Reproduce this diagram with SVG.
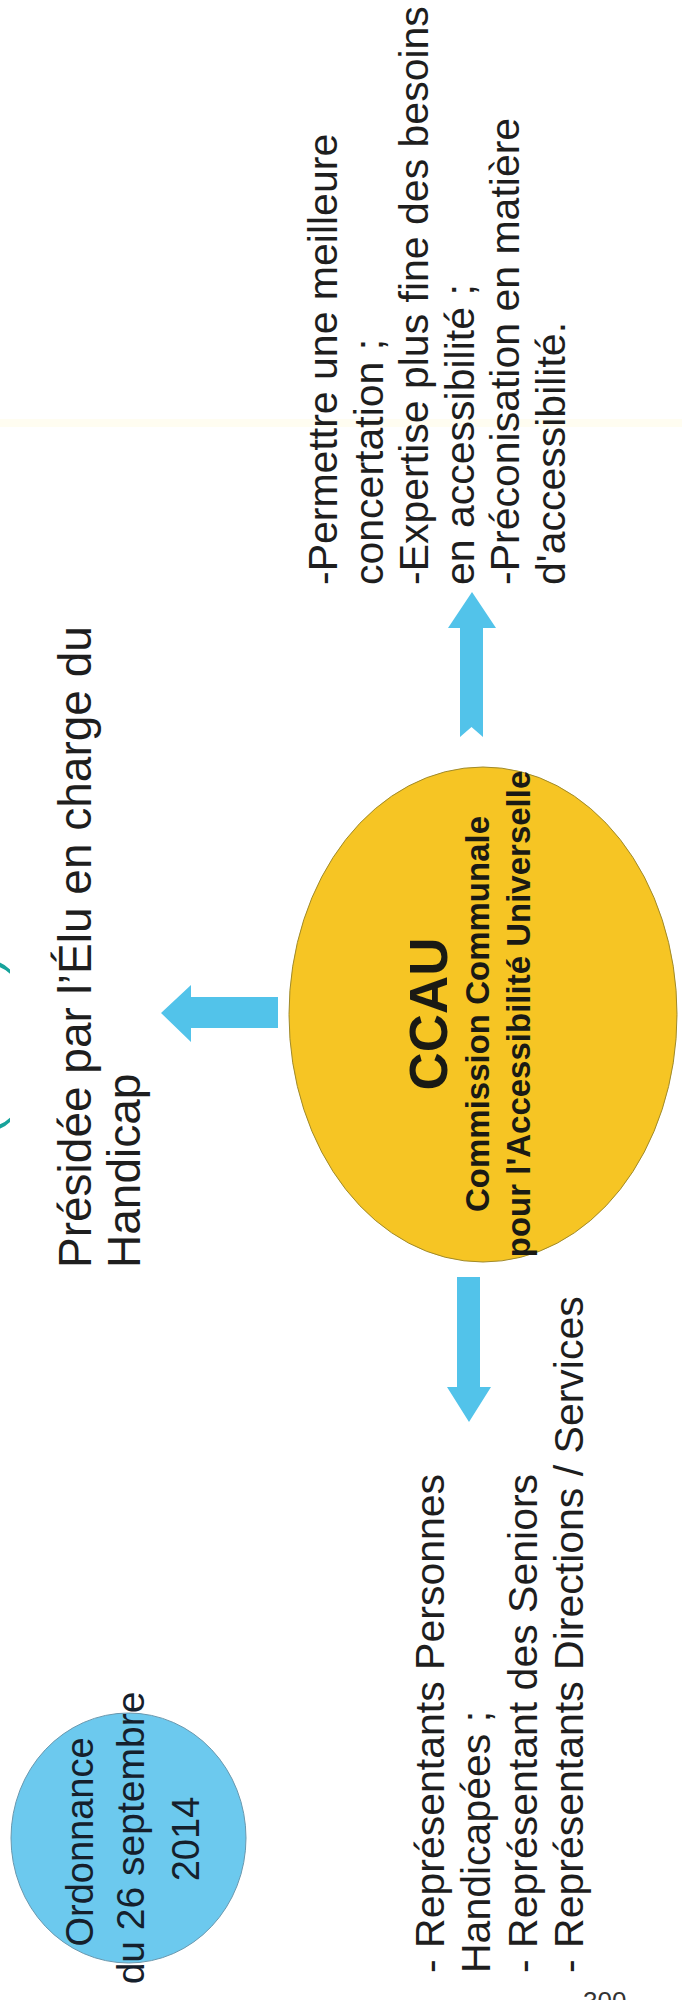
<svg xmlns="http://www.w3.org/2000/svg" width="682" height="2000" viewBox="0 0 682 2000">
<style>
.t{font-family:"Liberation Sans",Arial,sans-serif;fill:#1e1e1e}
.b{font-weight:bold;fill:#1a1a14}
.arrow{fill:#52C3EA}
</style>
<rect x="0" y="0" width="682" height="2000" fill="#ffffff"/>
<rect x="0" y="419" width="682" height="8" fill="#FFFBE8" opacity="0.6"/>
<g id="title">
<text class="t" transform="rotate(-90)" x="-1692" y="-0.5" font-size="48" style="fill:#17A39B" textLength="735" lengthAdjust="spacingAndGlyphs">Accessibilité Universelle (CCAU)</text>
</g>
<g id="connectors">
<polygon class="arrow" points="472,592 496,628 483,628 483,737 471.5,727 460,737 460,628 448,628"/>
<polygon class="arrow" points="457,1277 480,1277 480,1387 491,1387 469,1422 447,1387 457,1387"/>
<polygon class="arrow" points="278,997 191,997 191,985 161,1013 191,1042 191,1028 278,1028"/>
</g>
<g id="ccau">
<ellipse cx="483" cy="1014.5" rx="194" ry="247.5" fill="#F6C524" stroke="#A08A2A" stroke-width="1"/>
<g transform="rotate(-90)" text-anchor="middle">
<text class="t b" x="-1014" y="447" font-size="53">CCAU</text>
<text class="t b" x="-1014" y="489" font-size="33">Commission Communale</text>
<text class="t b" x="-1014" y="530" font-size="33">pour l'Accessibilité Universelle</text>
</g>
</g>
<g id="ordonnance">
<ellipse cx="128.5" cy="1838" rx="117.5" ry="125" fill="#6CC9EE" stroke="#6A98AE" stroke-width="1"/>
<g transform="rotate(-90)" text-anchor="middle">
<text class="t" x="-1842" y="93" font-size="38" style="fill:#15202c">Ordonnance</text>
<text class="t" x="-1838" y="144" font-size="39" style="fill:#15202c">du 26 septembre</text>
<text class="t" x="-1839" y="199" font-size="38" style="fill:#15202c">2014</text>
</g>
</g>
<g id="presidee">
<g transform="rotate(-90)">
<text class="t" x="-1268" y="91" font-size="46">Présidée par l’Élu en charge du</text>
<text class="t" x="-1268" y="140" font-size="46">Handicap</text>
</g>
</g>
<g id="missions">
<g transform="rotate(-90)">
<text class="t" x="-585" y="337" font-size="41">-Permettre une meilleure</text>
<text class="t" x="-585" y="383" font-size="41">concertation ;</text>
<text class="t" x="-585" y="428" font-size="41">-Expertise plus fine des besoins</text>
<text class="t" x="-585" y="474" font-size="41">en accessibilité ;</text>
<text class="t" x="-585" y="519" font-size="41">-Préconisation en matière</text>
<text class="t" x="-585" y="565" font-size="41">d'accessibilité.</text>
</g>
</g>
<g id="membres">
<g transform="rotate(-90)">
<text class="t" x="-1973" y="444" font-size="41">- Représentants Personnes</text>
<text class="t" x="-1973" y="490" font-size="41">Handicapées ;</text>
<text class="t" x="-1973" y="537" font-size="41">- Représentant des Seniors</text>
<text class="t" x="-1973" y="583" font-size="41">- Représentants Directions / Services</text>
</g>
</g>
<g id="page">
<text class="t" x="583" y="2010" font-size="26" style="fill:#333">300</text>
</g>
</svg>
